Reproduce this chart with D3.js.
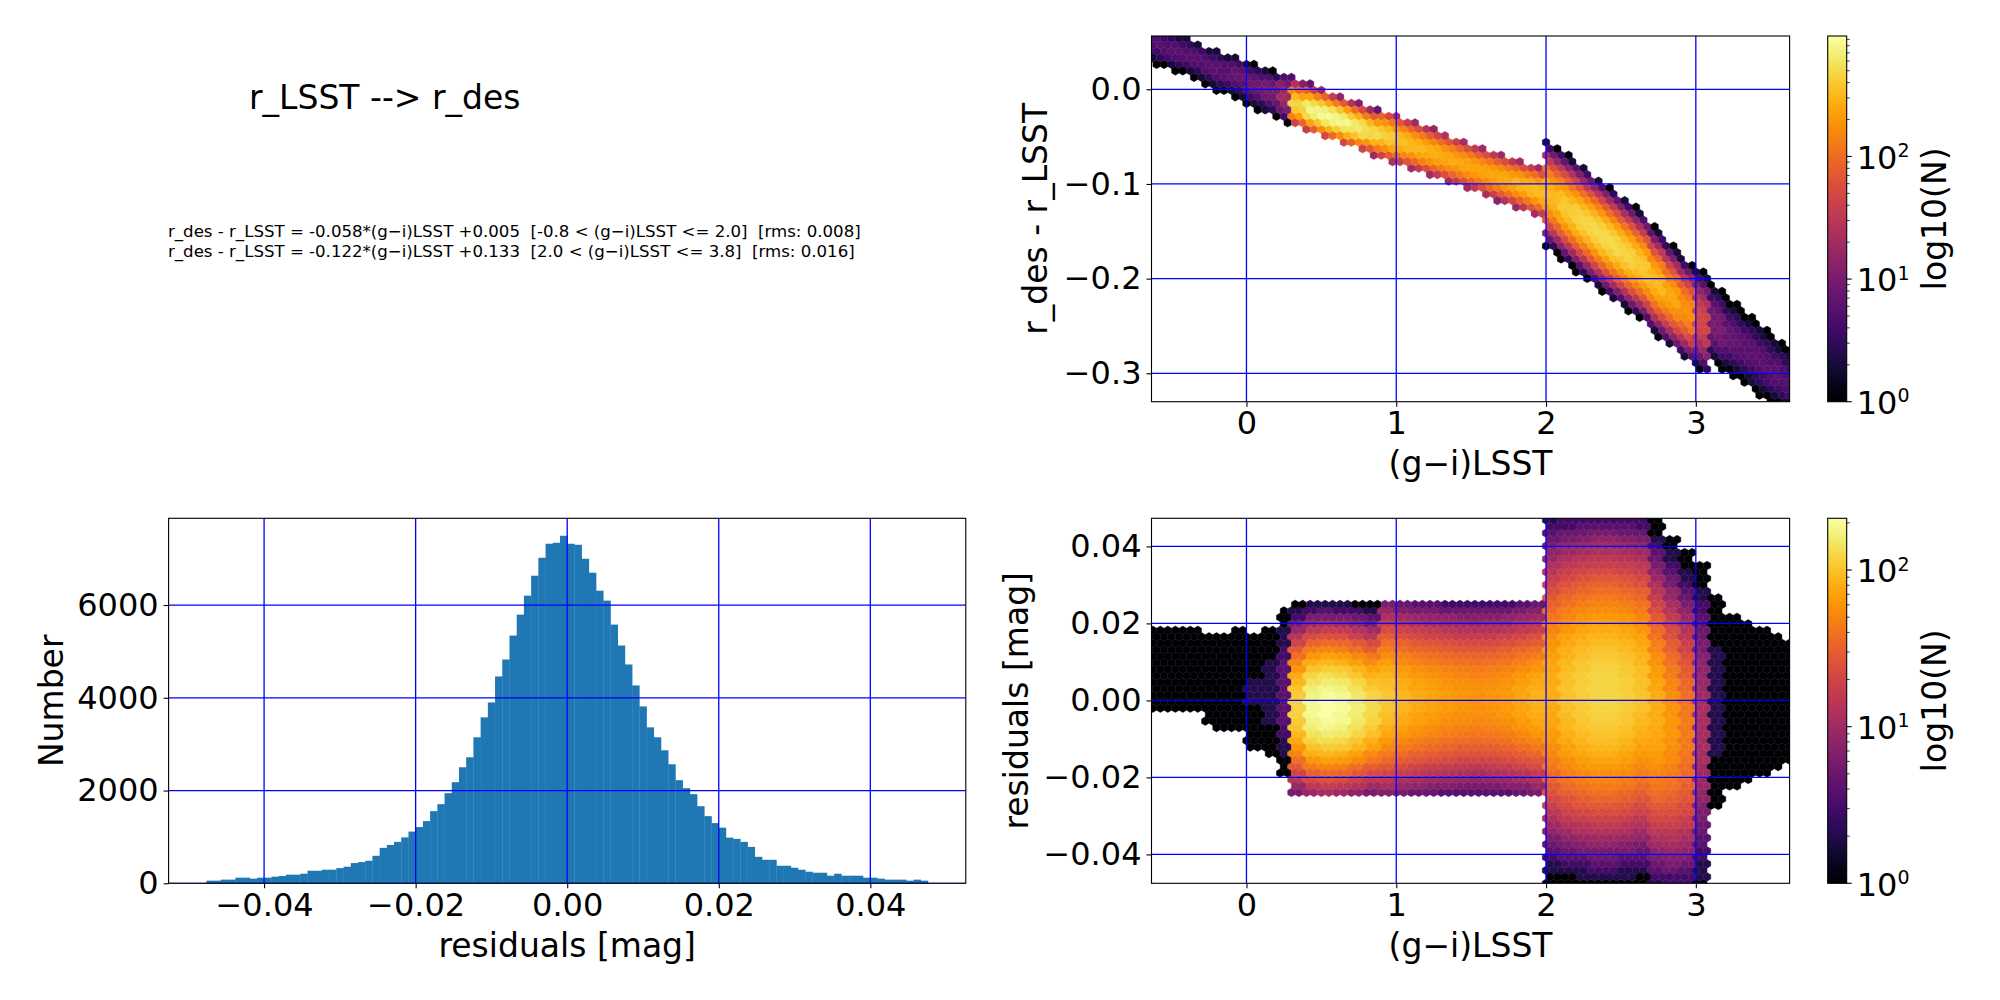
<!DOCTYPE html>
<html>
<head>
<meta charset="utf-8">
<script src="https://cdn.jsdelivr.net/npm/d3@7"></script>
<style>
  body { margin: 0; background: #fff; }
  text { font-family: "DejaVu Sans", sans-serif; fill: #000; }
</style>
</head>
<body>
<svg id="fig" width="2000" height="1000"></svg>
<script>
// ---- fit (two linear pieces, from the text block) ----
const fitSlope = [-0.058, -0.122];
const fitZero = [0.005, 0.133];
const fitLo = [-0.8, 2.0];
const fitHi = [2.0, 3.8];
const fitRms = [0.008, 0.016];

// ---- residual histogram, 100 bins ----
const histLo = -0.0476, histHi = 0.0476;
const histCounts = [
  57, 57, 79, 79, 121, 121, 100, 121, 121, 143,
  157, 186, 186, 207, 271, 271, 293, 293, 328, 357,
  436, 457, 486, 593, 764, 828, 893, 990, 1115, 1212,
  1341, 1556, 1706, 1943, 2180, 2502, 2717, 3148, 3578, 3900,
  4460, 4825, 5342, 5793, 6202, 6632, 7019, 7321, 7342, 7493,
  7321, 7299, 6998, 6697, 6310, 6095, 5578, 5127, 4718, 4266,
  3814, 3363, 3148, 2868, 2567, 2223, 2051, 1922, 1663, 1448,
  1298, 1200, 985, 957, 893, 785, 571, 507, 507, 378,
  378, 336, 293, 250, 228, 228, 164, 207, 164, 164,
  164, 121, 121, 100, 79, 79, 79, 57, 79, 57
];

// ---- residual density per (g-i) column, read off the residual hexbin ----
// column left edges (0.1 wide), peak count per hex, spread, centre offset, |residual| cut
const colStart = [-0.7, -0.6, -0.5, -0.4, -0.3, -0.2, -0.1, 0.0, 0.1, 0.2,
  0.3, 0.4, 0.5, 0.6, 0.7, 0.8, 0.9, 1.0, 1.1, 1.2,
  1.3, 1.4, 1.5, 1.6, 1.7, 1.8, 1.9, 2.0, 2.1, 2.2,
  2.3, 2.4, 2.5, 2.6, 2.7, 2.8, 2.9, 3.0, 3.1, 3.2,
  3.3, 3.4, 3.5, 3.6];
const colPeak = [1.5, 1.5, 1.5, 1.5, 1.6, 1.7, 1.9, 2.1, 2.6, 5,
  120, 190, 214, 200, 165, 130, 105, 88, 78, 72,
  66, 62, 60, 62, 66, 75, 85, 80, 100, 115,
  125, 125, 115, 100, 80, 62, 45, 12, 2.6, 1.9,
  1.7, 1.6, 1.5, 1.4];
const colSigma = [0.012, 0.012, 0.012, 0.012, 0.012, 0.012, 0.012, 0.012, 0.012, 0.012,
  0.009, 0.009, 0.009, 0.009, 0.009, 0.009, 0.0105, 0.0105, 0.0105, 0.0105,
  0.0105, 0.0105, 0.0105, 0.0105, 0.0105, 0.0105, 0.0105, 0.017, 0.017, 0.017,
  0.017, 0.017, 0.017, 0.017, 0.017, 0.017, 0.017, 0.02, 0.02, 0.02,
  0.02, 0.02, 0.02, 0.02];
const colShift = [0.008, 0.008, 0.008, 0.008, 0.005, 0.005, 0.005, 0.002, 0.002, 0.002,
  -0.002, -0.002, -0.002, -0.002, -0.002, -0.002, 0, 0, 0, 0,
  0, 0, 0, 0, 0, 0, 0, 0.002, 0.002, 0.002,
  0.002, 0.002, 0.002, 0.002, -0.003, -0.006, -0.008, -0.008, 0, 0,
  0, 0, 0, 0];
const colClip = [0.0255, 0.0255, 0.0255, 0.0255, 0.0255, 0.0255, 0.0255, 0.0255, 0.0255, 0.0255,
  0.0255, 0.0255, 0.0255, 0.0255, 0.0255, 0.0255, 0.0255, 0.0255, 0.0255, 0.0255,
  0.0255, 0.0255, 0.0255, 0.0255, 0.0255, 0.0255, 0.0255, 0.06, 0.06, 0.06,
  0.06, 0.06, 0.06, 0.06, 0.06, 0.06, 0.06, 0.06, 0.06, 0.06,
  0.06, 0.06, 0.06, 0.06];

// colour bar maxima
const topMax = 960, resMax = 214;

// ticks
const colorTicks = [0, 1, 2, 3];
const topYTicks = [0.0, -0.1, -0.2, -0.3];
const resYTicks = [0.04, 0.02, 0.0, -0.02, -0.04];
const histXTicks = [-0.04, -0.02, 0.0, 0.02, 0.04];
const histYTicks = [0, 2000, 4000, 6000];
const cbarTicks = [1, 10, 100];

// ---------------------------------------------------------------
const svg = d3.select("#fig");
const TICK_FONT = 32, LABEL_FONT = 33;

const xR = [1151.5, 1789.6];
const topY = [401.7, 36];
const lowY = [883.3, 518.3];
const histX = [168.6, 965.8];

const xColor = d3.scaleLinear().domain([-0.634, 3.626]).range(xR);
const yTop = d3.scaleLinear().domain([-0.330, 0.0563]).range(topY);
const yRes = d3.scaleLinear().domain([-0.0475, 0.0473]).range(lowY);
const xHist = d3.scaleLinear().domain([-0.0526, 0.0526]).range(histX);
const yHist = d3.scaleLinear().domain([0, 7870]).range(lowY);

function fitAt(x) {
  const k = x <= fitHi[0] ? 0 : 1;
  return fitSlope[k] * x + fitZero[k];
}

function residualCount(x, r) {
  const i = Math.max(0, d3.bisectRight(colStart, x) - 1);
  if (Math.abs(r) > colClip[i]) return 0;
  const z = (r - colShift[i]) / colSigma[i];
  return colPeak[i] * Math.exp(-0.5 * z * z);
}

function clipFor(id, xs, ys) {
  const [x0, x1] = xs.range(), [y1, y0] = ys.range();
  svg.append("clipPath").attr("id", id)
    .append("rect").attr("x", x0).attr("y", y0).attr("width", x1 - x0).attr("height", y1 - y0);
}

// hexbin layer; grid anchored like a plain hexbin of the data range
const hexDx = 0.05, hexX0 = -0.8;
function hexLayer(id, xs, ys, countFn, vmax) {
  clipFor(id, xs, ys);
  const color = d3.scaleSequentialLog(d3.interpolateInferno).domain([1, vmax]);
  const w = xs(hexDx) - xs(0);
  const R = w / Math.sqrt(3);
  const period = Math.abs(ys.invert(0) - ys.invert(3 * R)); // full row period, data units
  const [xa, xb] = xs.domain(), [ya, yb] = ys.domain();
  const cells = [];
  for (let lat = 0; lat < 2; lat++) {
    for (let i = Math.floor((xa - hexX0) / hexDx) - 1; i <= Math.ceil((xb - hexX0) / hexDx) + 1; i++) {
      const x = hexX0 + (i + lat * 0.5) * hexDx;
      for (let j = -1; j <= Math.ceil((yb - ya) / period) + 1; j++) {
        const y = ya + (j + lat * 0.5) * period;
        const n = Math.floor(countFn(x, y));
        if (n >= 1) cells.push({ x, y, n: Math.min(n, vmax) });
      }
    }
  }
  const hex = `m0,${-R}l${w / 2},${R / 2}v${R}l${-w / 2},${R / 2}l${-w / 2},${-R / 2}v${-R}z`;
  svg.append("g").attr("clip-path", `url(#${id})`)
    .selectAll("path").data(cells).join("path")
    .attr("d", d => `M${xs(d.x)},${ys(d.y)}` + hex)
    .attr("fill", d => color(d.n))
    .attr("stroke", d => color(d.n))
    .attr("stroke-width", 0.4);
}

function grid(id, xs, ys, xt, yt) {
  const g = svg.append("g").attr("clip-path", `url(#${id})`)
    .attr("stroke", "#0000ff").attr("stroke-width", 1.3);
  const [x0, x1] = xs.range(), [y1, y0] = ys.range();
  g.selectAll(".gx").data(xt).join("line")
    .attr("x1", d => xs(d)).attr("x2", d => xs(d)).attr("y1", y0).attr("y2", y1);
  g.selectAll(".gy").data(yt).join("line")
    .attr("y1", d => ys(d)).attr("y2", d => ys(d)).attr("x1", x0).attr("x2", x1);
}

function frame(xs, ys, xt, yt, xfmt, yfmt) {
  const [x0, x1] = xs.range(), [y1, y0] = ys.range();
  svg.append("rect").attr("x", x0).attr("y", y0).attr("width", x1 - x0).attr("height", y1 - y0)
    .attr("fill", "none").attr("stroke", "#000").attr("stroke-width", 1.1);
  const ax = svg.append("g").attr("transform", `translate(0,${y1})`)
    .call(d3.axisBottom(xs).tickValues(xt).tickFormat(xfmt).tickSize(5).tickPadding(5));
  const ay = svg.append("g").attr("transform", `translate(${x0},0)`)
    .call(d3.axisLeft(ys).tickValues(yt).tickFormat(yfmt).tickSize(5).tickPadding(5));
  [ax, ay].forEach(a => {
    a.select(".domain").remove();
    a.selectAll("line").attr("stroke-width", 1.1);
    a.selectAll("text").style("font-size", TICK_FONT + "px").style("font-family", "DejaVu Sans");
  });
}

function colorbar(id, ys, vmax) {
  const x0 = 1827.7, x1 = 1846.7;
  const [y1, y0] = ys;
  const grad = svg.append("linearGradient").attr("id", id)
    .attr("x1", 0).attr("y1", 1).attr("x2", 0).attr("y2", 0);
  d3.range(0, 1.0001, 0.05).forEach(t =>
    grad.append("stop").attr("offset", t).attr("stop-color", d3.interpolateInferno(t)));
  svg.append("rect").attr("x", x0).attr("y", y0).attr("width", x1 - x0).attr("height", y1 - y0)
    .attr("fill", `url(#${id})`).attr("stroke", "#000").attr("stroke-width", 1.1);
  const s = d3.scaleLog().domain([1, vmax]).range(ys);
  const minor = [];
  [1, 10, 100].forEach(d => d3.range(2, 10).forEach(k => { if (d * k <= vmax) minor.push(d * k); }));
  svg.append("g").selectAll("line").data(minor).join("line")
    .attr("x1", x1).attr("x2", x1 + 3).attr("y1", d => s(d)).attr("y2", d => s(d))
    .attr("stroke", "#000").attr("stroke-width", 0.8);
  svg.append("g").selectAll("line").data(cbarTicks).join("line")
    .attr("x1", x1).attr("x2", x1 + 5).attr("y1", d => s(d)).attr("y2", d => s(d))
    .attr("stroke", "#000").attr("stroke-width", 1.1);
  const lab = svg.append("g").selectAll("text").data(cbarTicks).join("text")
    .attr("x", x1 + 10).attr("y", d => s(d) + 12.2)
    .style("font-size", TICK_FONT + "px").text("10");
  lab.append("tspan").attr("dy", -11.5).style("font-size", "19px")
    .text(d => String(Math.round(Math.log10(d))));
  svg.append("text")
    .attr("transform", `translate(1946,${(y0 + y1) / 2}) rotate(-90)`)
    .attr("text-anchor", "middle").style("font-size", LABEL_FONT + "px").text("log10(N)");
}

function xLabel(x, y, t) {
  svg.append("text").attr("x", x).attr("y", y).attr("text-anchor", "middle")
    .style("font-size", LABEL_FONT + "px").text(t);
}
function yLabel(x, y, t) {
  svg.append("text").attr("transform", `translate(${x},${y}) rotate(-90)`)
    .attr("text-anchor", "middle").style("font-size", LABEL_FONT + "px").text(t);
}

// ---- top-left: title and fit text ----
svg.append("text").attr("x", 249).attr("y", 109).style("font-size", "33px").text("r_LSST --> r_des");
const eqLines = fitSlope.map((a, i) =>
  `r_des - r_LSST = ${a.toFixed(3)}*(g\u2212i)LSST +${fitZero[i].toFixed(3)}  ` +
  `[${fitLo[i].toFixed(1)} < (g\u2212i)LSST <= ${fitHi[i].toFixed(1)}]  [rms: ${fitRms[i].toFixed(3)}]`);
svg.append("g").selectAll("text").data(eqLines).join("text")
  .attr("x", 168).attr("y", (d, i) => 236.7 + i * 20)
  .attr("xml:space", "preserve").style("white-space", "pre")
  .style("font-size", "16.6px").text(d => d);

// ---- top-right: colour term hexbin ----
const resSpan = yRes.domain()[1] - yRes.domain()[0];
const topSpan = yTop.domain()[1] - yTop.domain()[0];
hexLayer("clipTop", xColor, yTop,
  (x, y) => residualCount(x, y - fitAt(x)) * topSpan / resSpan, topMax);
grid("clipTop", xColor, yTop, colorTicks, topYTicks);
frame(xColor, yTop, colorTicks, topYTicks, d3.format("d"), d3.format(".1f"));
colorbar("cbTop", topY, topMax);
xLabel((xR[0] + xR[1]) / 2, 475, "(g\u2212i)LSST");
yLabel(1047, (topY[0] + topY[1]) / 2, "r_des - r_LSST");

// ---- bottom-right: residual hexbin ----
hexLayer("clipRes", xColor, yRes, residualCount, resMax);
grid("clipRes", xColor, yRes, colorTicks, resYTicks);
frame(xColor, yRes, colorTicks, resYTicks, d3.format("d"), d3.format(".2f"));
colorbar("cbRes", lowY, resMax);
xLabel((xR[0] + xR[1]) / 2, 957, "(g\u2212i)LSST");
yLabel(1028, (lowY[0] + lowY[1]) / 2, "residuals [mag]");

// ---- bottom-left: residual histogram ----
clipFor("clipHist", xHist, yHist);
const binW = (histHi - histLo) / histCounts.length;
svg.append("g").selectAll("rect").data(histCounts).join("rect")
  .attr("x", (d, i) => xHist(histLo + i * binW))
  .attr("width", (d, i) => xHist(histLo + (i + 1) * binW) - xHist(histLo + i * binW) + 0.3)
  .attr("y", d => yHist(d))
  .attr("height", d => yHist(0) - yHist(d))
  .attr("fill", "#1f77b4");
grid("clipHist", xHist, yHist, histXTicks, histYTicks);
frame(xHist, yHist, histXTicks, histYTicks, d3.format(".2f"), d3.format("d"));
xLabel((histX[0] + histX[1]) / 2, 957, "residuals [mag]");
yLabel(63, (lowY[0] + lowY[1]) / 2, "Number");
</script>
</body>
</html>
